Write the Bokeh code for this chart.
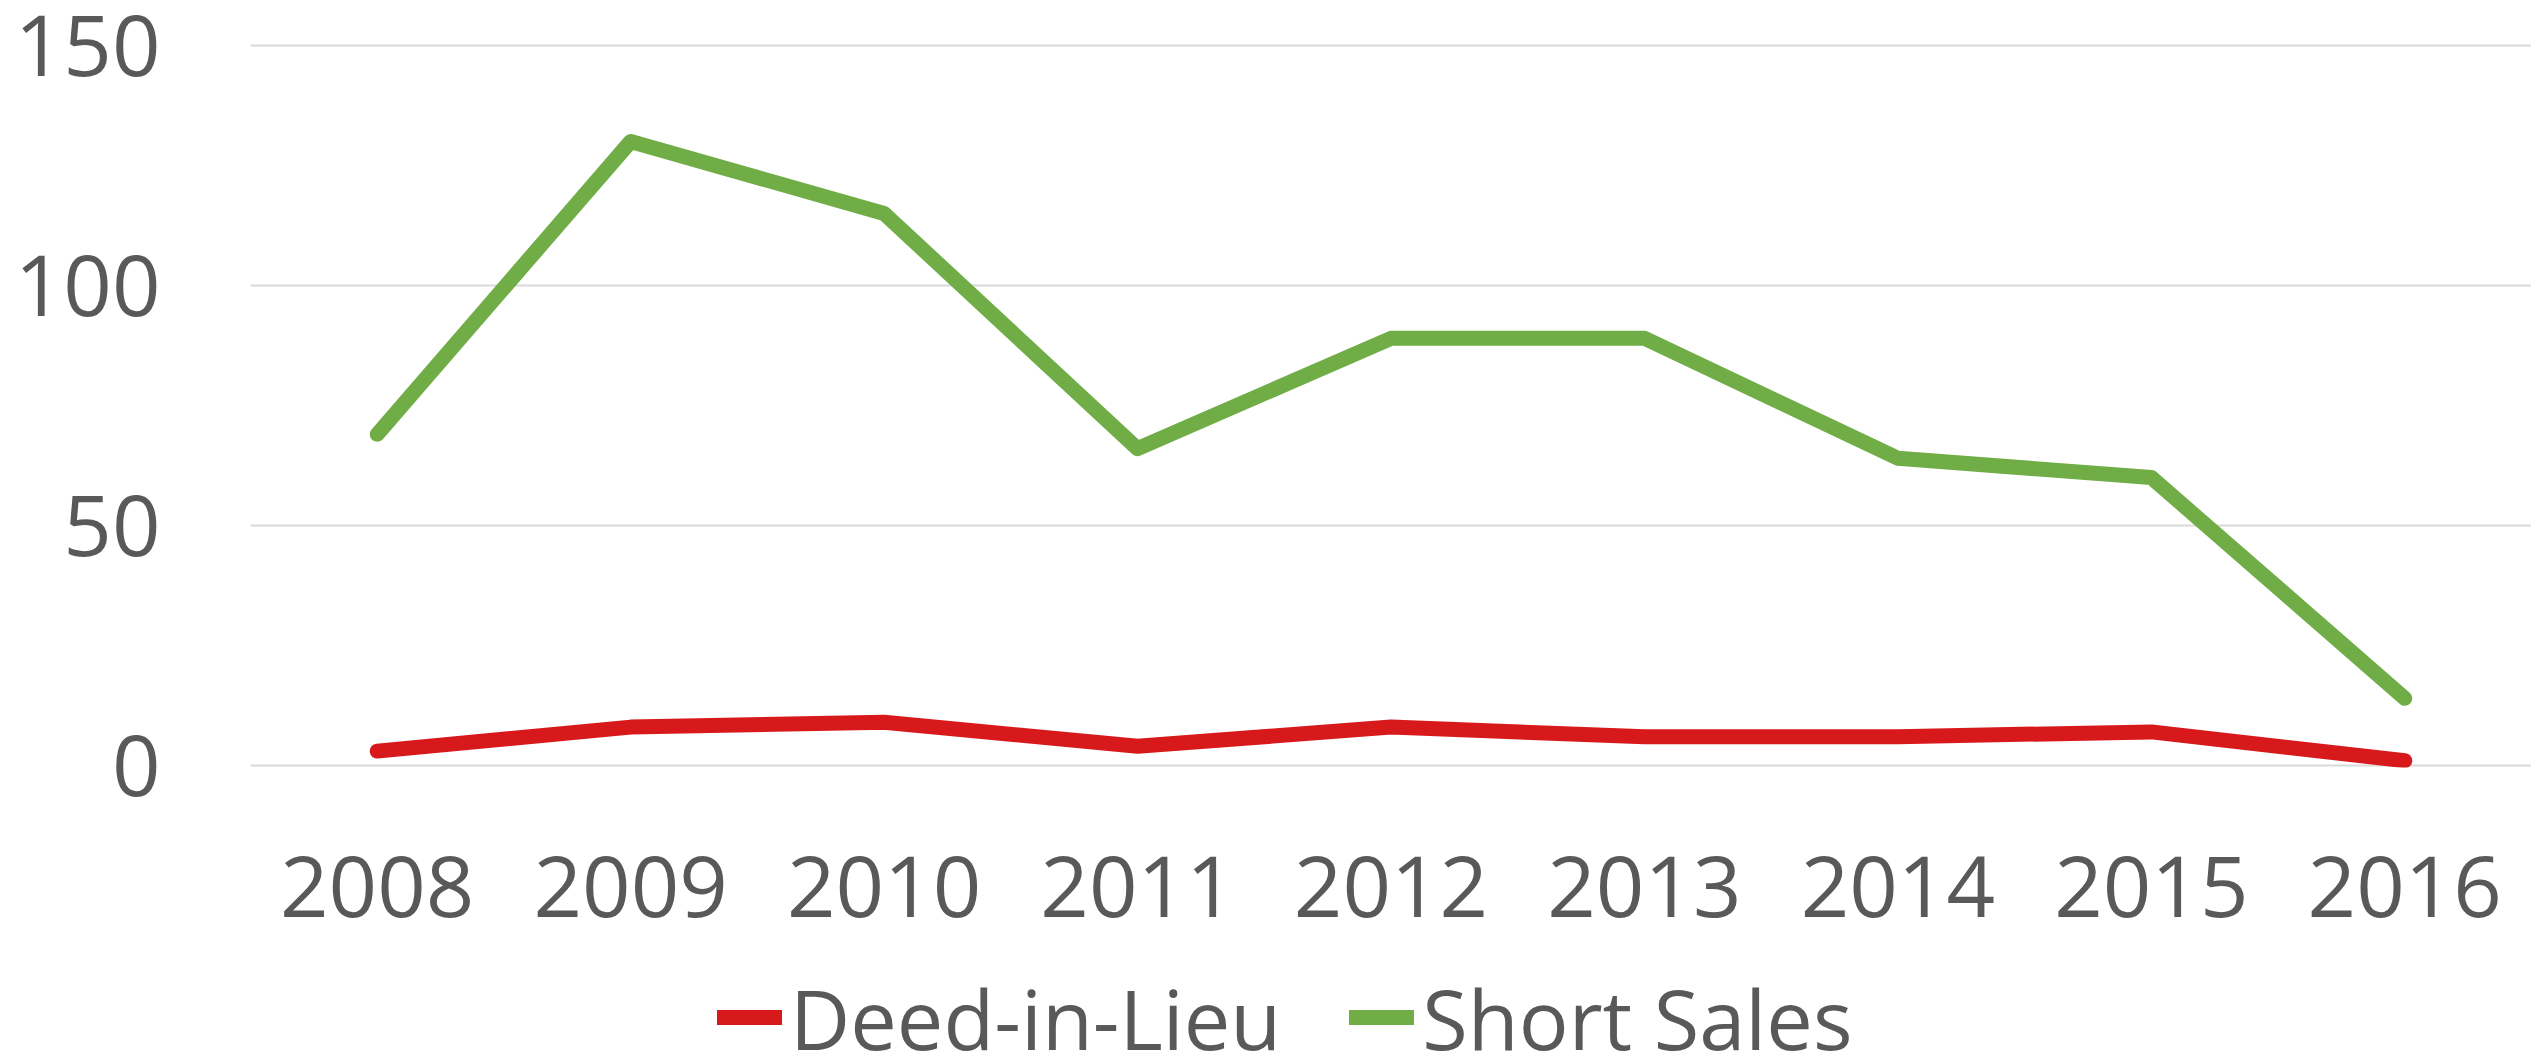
from bokeh.plotting import figure
from bokeh.layouts import column
from bokeh.models import Range1d, FactorRange, FixedTicker, Legend, LegendItem, ColumnDataSource
from bokeh.embed import file_html
from bokeh.resources import INLINE

years = ["2008", "2009", "2010", "2011", "2012", "2013", "2014", "2015", "2016"]
deed_in_lieu = [3, 8, 9, 4, 8, 6, 6, 7, 1]
short_sales = [69, 130, 115, 66, 89, 89, 64, 60, 14]
y_ticks = [0, 50, 100, 150]
series_names = ["Deed-in-Lieu", "Short Sales"]

FONT = "Open Sans"
TXT = "#595959"
RED = "#D7191C"
GREEN = "#70AD47"

PAD = 2 / 4.8  # two pixels of data space so that edge gridlines stay visible

p = figure(width=2531, height=965, x_range=FactorRange(*years, range_padding=0),
           y_range=Range1d(-PAD, 150 + PAD), output_backend="svg", toolbar_location=None,
           min_border_left=250, min_border_right=0, min_border_top=43, min_border_bottom=198)
p.outline_line_color = None
p.background_fill_color = "white"
p.border_fill_color = "white"

src = ColumnDataSource(dict(year=years, dil=deed_in_lieu, ss=short_sales))
p.line("year", "dil", source=src, line_color=RED, line_width=15, line_join="round", line_cap="round")
p.line("year", "ss", source=src, line_color=GREEN, line_width=15, line_join="round", line_cap="round")

p.xgrid.visible = False
p.ygrid.grid_line_color = "#D9D9D9"
p.ygrid.grid_line_width = 2
p.yaxis.ticker = FixedTicker(ticks=y_ticks)

for ax in (p.xaxis[0], p.yaxis[0]):
    ax.axis_line_color = None
    ax.major_tick_line_color = None
    ax.minor_tick_line_color = None
    ax.major_tick_out = 0
    ax.major_tick_in = 0
    ax.major_label_text_font = FONT
    ax.major_label_text_font_size = "85px"
    ax.major_label_text_color = TXT

p.yaxis.major_label_standoff = 90
p.xaxis.major_label_standoff = 88

# legend strip below the chart (its series are drawn out of view; only the legend shows)
lg = figure(width=2531, height=88, output_backend="svg", toolbar_location=None,
            x_range=FactorRange(*years, range_padding=0), y_range=Range1d(1000, 1001),
            x_axis_location=None, y_axis_location=None,
            min_border_left=0, min_border_right=0, min_border_top=0, min_border_bottom=0)
lg.outline_line_color = None
lg.xgrid.visible = False
lg.ygrid.visible = False
lg.border_fill_color = "white"
l1 = lg.line("year", "dil", source=src, line_color=RED, line_width=15, line_cap="round")
l2 = lg.line("year", "ss", source=src, line_color=GREEN, line_width=15, line_cap="round")

legend = Legend(items=[LegendItem(label=series_names[0], renderers=[l1]),
                       LegendItem(label=series_names[1], renderers=[l2])],
                orientation="horizontal", location=(467, -24),
                label_text_font=FONT, label_text_font_size="83px", label_text_color=TXT,
                glyph_width=65, glyph_height=120, label_height=120, label_standoff=8, spacing=68,
                padding=0, margin=0, border_line_color=None, background_fill_alpha=0)
lg.add_layout(legend, "center")

layout = column(p, lg, spacing=0)
open("out.html", "w").write(file_html(layout, INLINE))
